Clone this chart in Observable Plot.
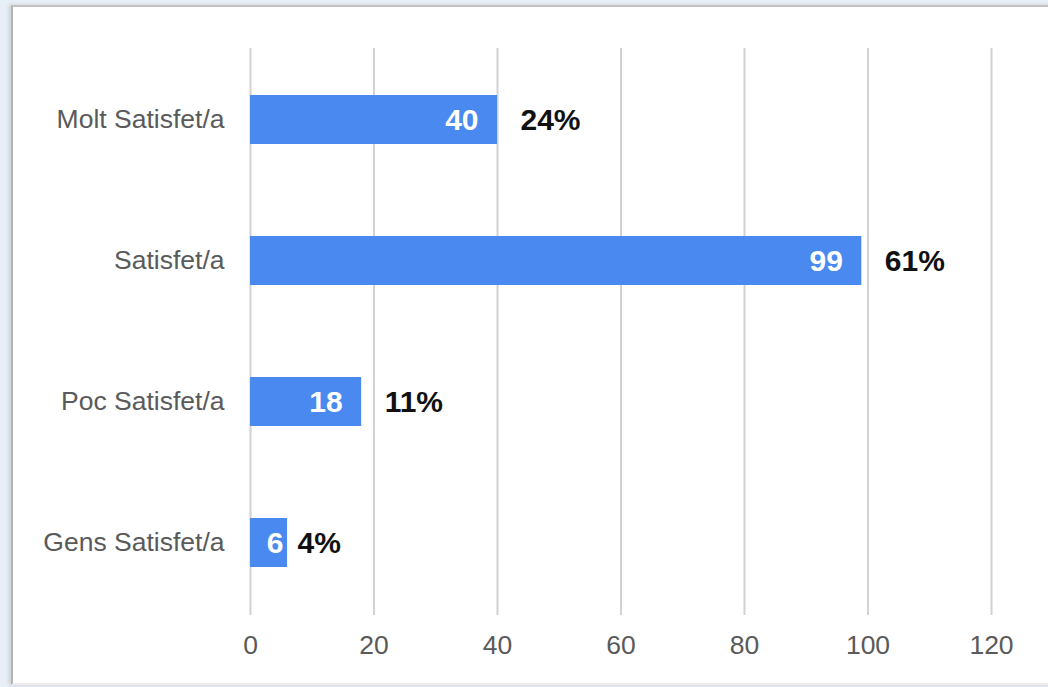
<!DOCTYPE html>
<html><head><meta charset="utf-8">
<script src="https://cdn.jsdelivr.net/npm/d3@7"></script>
<script src="https://cdn.jsdelivr.net/npm/@observablehq/plot@0.6"></script>
<style>
body{margin:0;background:#e8eef5;width:1048px;height:687px;overflow:hidden;position:relative;font-family:"Liberation Sans",Arial,sans-serif}
#frame{position:absolute;left:11px;top:5px;width:1045px;height:676px;background:#fff;border-left:2px solid #b3b3b3;border-top:2px solid #c2c2c2;border-bottom:2px solid #ececec;box-shadow:-2px 0 4px rgba(0,0,0,0.12)}
#chart{position:absolute;left:0;top:0}
</style></head><body><div id="frame"></div><div id="chart"></div>
<script>
const categories = ["Molt Satisfet/a", "Satisfet/a", "Poc Satisfet/a", "Gens Satisfet/a"];
const counts = [40, 99, 18, 6];
const percents = ["24%", "61%", "11%", "4%"];
const xTicks = [0, 20, 40, 60, 80, 100, 120];

const data = categories.map((c, i) => ({category: c, count: counts[i], pct: percents[i]}));
const wide = d => d.count >= 10;
const narrow = d => d.count < 10;

const plot = Plot.plot({
  width: 1048, height: 687,
  marginLeft: 250, marginRight: 57, marginTop: 48, marginBottom: 72,
  style: {background: "transparent", fontFamily: "'Liberation Sans', Arial, sans-serif"},
  x: {domain: [0, 120], ticks: xTicks, label: null},
  y: {domain: categories, paddingInner: 0.65, paddingOuter: 0.325, label: null},
  marks: [
    Plot.ruleX(xTicks, {stroke: "#d2d2d2", strokeWidth: 2}),
    Plot.barX(data, {x: "count", y: "category", fill: "#4a89f0"}),
    Plot.axisX({ticks: xTicks, tickSize: 0, tickPadding: 20, fontSize: 26.5, color: "#5a5a5a", label: null}),
    Plot.axisY({tickSize: 0, tickPadding: 26, fontSize: 26.5, color: "#5a5a5a", label: null}),
    Plot.text(data, {filter: wide, x: "count", y: "category", text: d => String(d.count), textAnchor: "end", dx: -19, fill: "white", fontWeight: "bold", fontSize: 30}),
    Plot.text(data, {filter: narrow, x: "count", y: "category", text: d => String(d.count), textAnchor: "end", dx: -4, fill: "white", fontWeight: "bold", fontSize: 30}),
    Plot.text(data, {filter: wide, x: "count", y: "category", text: "pct", textAnchor: "start", dx: 23, fill: "#111", fontWeight: "bold", fontSize: 30}),
    Plot.text(data, {filter: narrow, x: "count", y: "category", text: "pct", textAnchor: "start", dx: 10, fill: "#111", fontWeight: "bold", fontSize: 30})
  ]
});
document.getElementById("chart").appendChild(plot);
</script>
</body></html>
